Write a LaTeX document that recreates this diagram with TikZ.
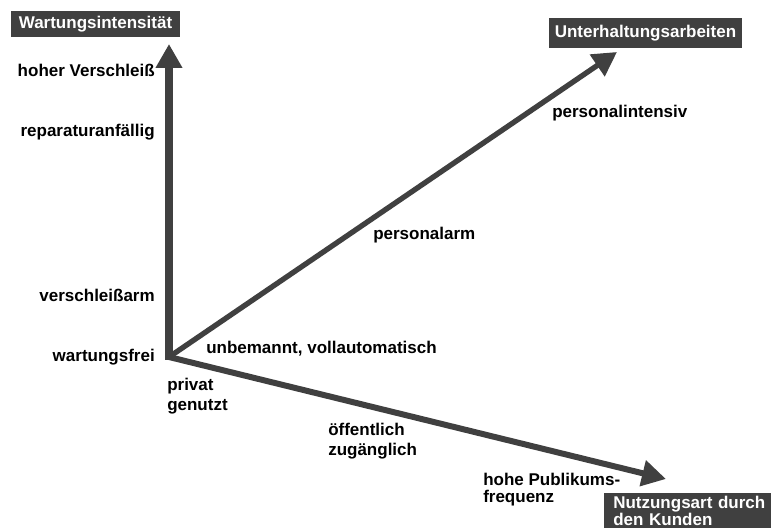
\documentclass[tikz,border=0pt]{standalone}
\usepackage{fontspec}
\setmainfont{Liberation Sans}
\usetikzlibrary{arrows.meta}
\definecolor{axisgray}{RGB}{64, 64, 64}

\begin{document}
\begin{tikzpicture}[
    x=0.75pt, y=-0.75pt,
    axis/.style={-{Triangle[length=18pt, width=19pt]}, color=axisgray},
    tag/.style={inner sep=0pt, font=\fontsize{12.75}{15}\selectfont\bfseries},
    titlebox/.style={fill=axisgray, text=white, inner sep=0pt,
                     font=\fontsize{12.75}{12.75}\selectfont\bfseries}
]
\clip (0,0) rectangle (771,531);

\coordinate (o) at (169,357);
\coordinate (ytip) at (169,44);
\coordinate (dtip) at (617,52);
\coordinate (xtip) at (666,479);

% Achsen
\draw[axis, line width=4pt] (o) -- (dtip);
\draw[axis, line width=4.5pt] (o) -- (xtip);
\draw[axis, line width=6pt] ([yshift=-2pt]o) -- (ytip);

% Achsentitel
\node[titlebox, minimum width=126.75pt, minimum height=19.5pt] (wartung) at (95.5,24.5) {Wartungsintensit\"at};
\node[titlebox, minimum width=144.75pt, minimum height=22.5pt] (unterhalt) at (645.5,33) {Unterhaltungsarbeiten};
\node[titlebox, anchor=north west, align=left, text width=160pt,
      inner xsep=6.75pt, inner ysep=2pt] (nutzung) at (604,493) {Nutzungsart durch\\den Kunden};

% Wartungsintensitaet
\node[tag, anchor=base east] (hoch) at (155,77) {hoher Verschlei\ss};
\node[tag, anchor=base east] (reparatur) at (155,137) {reparaturanf\"allig};
\node[tag, anchor=base east] (arm) at (155,301) {verschlei\ss arm};
\node[tag, anchor=base east] (frei) at (155,361) {wartungsfrei};

% Unterhaltungsarbeiten
\node[tag, anchor=base west] (unbemannt) at (206,353) {unbemannt, vollautomatisch};
\node[tag, anchor=base west] (personalarm) at (373,239) {personalarm};
\node[tag, anchor=base west] (personalint) at (552,118) {personalintensiv};

% Nutzungsart
\node[tag, anchor=base west, align=left] (privat) at (167,410) {privat\\genutzt};
\node[tag, anchor=base west, align=left] (oeffentlich) at (328,455) {\"offentlich\\zug\"anglich};
\node[tag, anchor=base west, align=left, font=\fontsize{12.75}{12.75}\selectfont\bfseries]
      (publikum) at (483,502) {hohe Publikums-\\frequenz};

\end{tikzpicture}
\end{document}
